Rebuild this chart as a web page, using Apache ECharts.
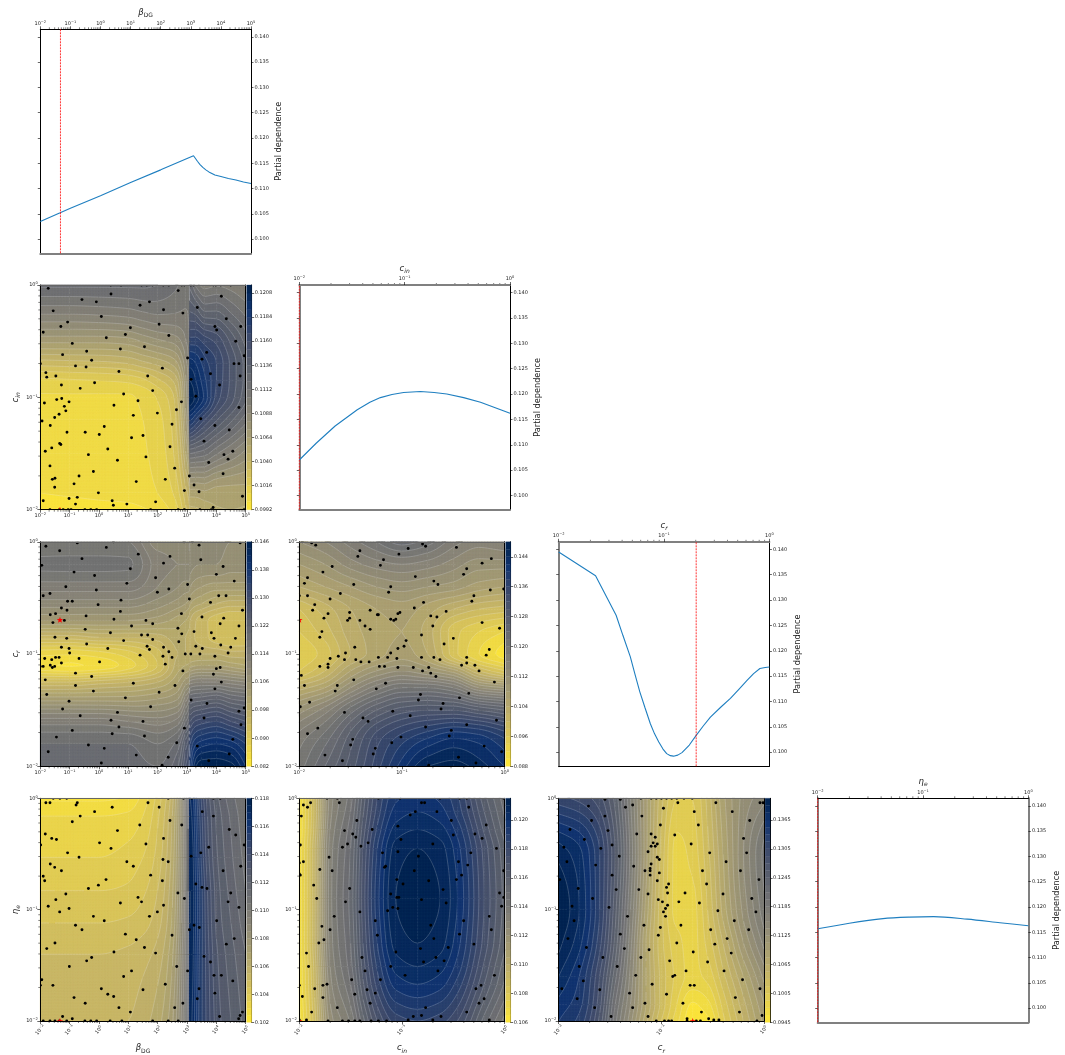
<!DOCTYPE html>
<html><head><meta charset="utf-8">
<style>html,body{margin:0;padding:0;background:#fff}#c{width:1065px;height:1055px}</style>
<script src="https://cdn.jsdelivr.net/npm/echarts@6/dist/echarts.min.js"></script>
</head><body><div id="c"></div>
<script>
// ---------- values (log10 of the parameter where marked) ----------
const lineBetaX=[-2,-1.34,-1,0,1,2,3.09,3.15,3.22,3.3,3.4,3.5,3.6,3.7,3.8,4,4.25,4.5,4.75,5];
const lineBetaY=[.1035,.1052,.1061,.1086,.1112,.1137,.1165,.1160,.1154,.1148,.1142,.1137,.1133,.1130,.1127,.1124,.1120,.1117,.1113,.1110];
const lineCinX=[-2,-1.84,-1.66,-1.45,-1.33,-1.23,-1.12,-1.01,-.93,-.85,-.72,-.6,-.44,-.28,-.14,0];
const lineCinY=[.107,.1103,.1137,.1169,.1184,.1193,.1199,.1203,.1204,.1205,.1203,.12,.1193,.1184,.1173,.1162];
const lineCrX=[-2,-1.65,-1.455,-1.39,-1.32,-1.275,-1.23,-1.18,-1.13,-1.09,-1.05,-1.01,-.975,-.94,-.91,-.87,-.83,-.76,-.695,-.63,-.56,-.46,-.37,-.29,-.21,-.15,-.09,-.04,0];
const lineCrY=[.1395,.1348,.127,.123,.1188,.1153,.1119,.1087,.1056,.1036,.102,.1006,.0997,.0993,.0992,.0994,.0999,.1014,.1033,.1051,.1069,.1089,.1106,.1124,.1142,.1155,.1165,.1167,.1168];
const lineEtaX=[-2,-1.7,-1.38,-1.13,-.9,-.58,-.27,0];
const lineEtaY=[.1157,.1168,.1177,.118,.1181,.1176,.1169,.1163];
const bestBeta=-1.33, bestCin=-2, bestCr=-.695, bestEta=-2;

const betaTicks=[-2,-1,0,1,2,3,4,5], unitTicks=[-2,-1,0];
const pdTicks=[.100,.105,.110,.115,.120,.125,.130,.135,.140];

// contour fields: node positions (log10) and values
const xA=[-2,-1,0,1,1.5,2,2.6,2.95,3.08,3.11,3.3,3.6,4,4.5,5];
const yA=[-2,-1.85,-1.5,-1.2,-1,-.85,-.7,-.5,-.25,0];
const zA=[
[.0993,.0994,.0996,.0997,.0999,.1003,.1012,.1030,.1038,.1045,.1046,.1050,.1055,.1056,.1055],
[.1000,.1001,.1002,.1003,.1005,.1008,.1018,.1037,.1045,.1060,.1060,.1062,.1060,.1060,.1060],
[.1003,.1004,.1004,.1005,.1007,.1011,.1026,.1055,.1075,.1120,.1118,.1115,.1105,.1095,.1085],
[.1004,.1004,.1005,.1006,.1008,.1013,.1030,.1068,.1095,.1185,.1175,.1160,.1145,.1130,.1115],
[.1007,.1007,.1007,.1007,.1010,.1017,.1034,.1075,.1100,.1214,.1205,.1190,.1165,.1148,.1130],
[.1014,.1015,.1016,.1018,.1022,.1030,.1043,.1078,.1100,.1208,.1200,.1186,.1168,.1150,.1133],
[.1035,.1036,.1037,.1040,.1045,.1050,.1060,.1085,.1100,.1197,.1192,.1180,.1168,.1150,.1133],
[.1066,.1066,.1066,.1068,.1073,.1078,.1083,.1095,.1105,.1172,.1172,.1165,.1158,.1142,.1125],
[.1097,.1097,.1098,.1100,.1103,.1105,.1104,.1103,.1106,.1145,.1142,.1130,.1130,.1120,.1110],
[.1122,.1122,.1122,.1122,.1122,.1120,.1114,.1108,.1112,.1125,.1110,.1100,.1103,.1100,.1095]];

const xB=[-2,-1,0,1,2,2.7,2.95,3.08,3.11,3.5,4,4.5,5];
const yB=[-2,-1.8,-1.6,-1.4,-1.25,-1.1,-1,-.85,-.7,-.55,-.4,-.2,0];
const zBcols=[
[.119,.118,.113,.103,.094,.0845,.0865,.095,.104,.109,.113,.1165,.114],
[.119,.118,.113,.103,.094,.0838,.0862,.095,.104,.109,.113,.1166,.114],
[.119,.118,.113,.103,.095,.0845,.087,.096,.104,.109,.113,.1166,.114],
[.119,.118,.112,.103,.096,.087,.089,.096,.104,.109,.113,.1164,.114],
[.118,.116,.111,.104,.098,.092,.093,.097,.103,.107,.110,.111,.109],
[.122,.119,.113,.106,.102,.099,.098,.099,.101,.105,.108,.110,.109],
[.128,.125,.118,.111,.105,.100,.098,.098,.100,.104,.107,.110,.109],
[.131,.128,.121,.114,.106,.1005,.098,.0975,.099,.103,.107,.110,.110],
[.137,.134,.128,.120,.111,.101,.098,.097,.098,.102,.106,.109,.110],
[.146,.139,.131,.121,.112,.102,.098,.095,.095,.100,.104,.108,.110],
[.146,.140,.132,.122,.112,.102,.098,.093,.093,.098,.103,.108,.109],
[.145,.139,.130,.120,.111,.101,.097,.092,.092,.097,.103,.107,.108],
[.140,.136,.128,.119,.110,.100,.097,.092,.092,.097,.103,.107,.108]];

const xC=[-2,-1.75,-1.5,-1.25,-1,-.75,-.5,-.25,0];
const yC=[-2,-1.75,-1.5,-1.3,-1.15,-1,-.8,-.6,-.4,-.2,0];
const zC=[
[.119,.124,.129,.135,.141,.146,.147,.145,.142],
[.117,.121,.127,.133,.137,.140,.142,.141,.138],
[.111,.115,.121,.126,.129,.130,.130,.128,.126],
[.103,.106,.112,.117,.120,.120,.118,.112,.110],
[.096,.100,.106,.110,.112,.110,.107,.100,.096],
[.094,.097,.102,.105,.107,.104,.097,.092,.089],
[.096,.099,.103,.105,.106,.103,.097,.094,.092],
[.098,.101,.104,.106,.107,.105,.102,.100,.099],
[.104,.106,.108,.110,.111,.110,.109,.107,.106],
[.108,.110,.113,.115,.116,.115,.113,.111,.111],
[.112,.114,.117,.120,.123,.121,.117,.115,.116]];

const xD=[-2,0,1,1.5,2,2.5,2.8,3,3.09,3.11,3.4,3.7,4,4.5,5];
const yD=[-2,-1.4,-1.12,-.83,-.53,-.16,0];
const zD=[
[.1053,.1054,.1055,.1058,.1063,.1074,.1090,.1108,.1122,.1172,.1155,.1143,.1133,.1125,.1118],
[.1050,.1050,.1051,.1053,.1057,.1069,.1087,.1106,.1122,.1174,.1156,.1142,.1131,.1122,.1115],
[.1045,.1045,.1046,.1048,.1053,.1066,.1085,.1105,.1122,.1175,.1157,.1141,.1129,.1120,.1112],
[.1040,.1040,.1041,.1044,.1050,.1064,.1084,.1105,.1122,.1175,.1157,.1140,.1128,.1118,.1110],
[.1035,.1035,.1037,.1040,.1047,.1062,.1083,.1104,.1122,.1174,.1155,.1137,.1126,.1116,.1108],
[.1030,.1030,.1031,.1035,.1044,.1060,.1082,.1106,.1122,.1172,.1152,.1135,.1124,.1114,.1106],
[.1024,.1024,.1026,.1032,.1042,.1058,.1082,.1108,.1122,.1170,.1150,.1133,.1122,.1112,.1105]];

const xE=[-2,-1.85,-1.7,-1.5,-1.38,-1.24,-1.06,-.85,-.63,-.46,-.2,0];
const yE=[-2,-1.67,-1.51,-1.3,-.9,-.45,-.28,-.12,0];
const zE=[
[.1063,.1088,.1122,.1136,.1153,.1170,.1182,.1185,.1182,.1175,.1153,.1138],
[.1065,.1091,.1128,.1145,.1164,.1182,.1197,.1200,.1197,.1188,.1165,.1149],
[.1065,.1092,.1130,.1148,.1167,.1186,.1202,.1205,.1202,.1193,.1169,.1152],
[.1066,.1094,.1132,.1150,.1170,.1190,.1207,.1210,.1207,.1197,.1173,.1156],
[.1066,.1094,.1133,.1152,.1172,.1193,.1210,.1213,.1210,.1200,.1175,.1158],
[.1066,.1094,.1132,.1150,.1170,.1190,.1207,.1210,.1207,.1197,.1173,.1156],
[.1065,.1092,.1130,.1148,.1167,.1186,.1202,.1205,.1202,.1193,.1169,.1152],
[.1065,.1091,.1128,.1145,.1164,.1182,.1197,.1200,.1197,.1188,.1165,.1149],
[.1064,.1091,.1127,.1143,.1162,.1180,.1194,.1197,.1194,.1186,.1162,.1147]];

const xF=[-2,-1.8,-1.6,-1.45,-1.3,-1.15,-1,-.85,-.7,-.55,-.4,-.2,0];
const yF=[-2,-1.85,-1.6,-1.3,-1,-.5,0];
const zF=[
[.135,.133,.127,.119,.113,.107,.102,.098,.0948,.0955,.100,.105,.110],
[.136,.134,.128,.120,.114,.108,.103,.099,.0958,.097,.101,.106,.111],
[.138,.135,.129,.122,.115,.108,.103,.100,.0985,.0995,.103,.108,.113],
[.140,.137,.131,.124,.116,.108,.1025,.0995,.0985,.101,.105,.111,.116],
[.141,.138,.132,.125,.117,.109,.1025,.0985,.0985,.102,.107,.113,.118],
[.139,.137,.132,.126,.118,.110,.103,.0985,.0995,.103,.108,.114,.119],
[.131,.130,.128,.124,.117,.110,.104,.1005,.1005,.104,.109,.113,.115]];

// sample points, flat x,y pairs of log10 values
const ptsA=[-1.73,-.03,.41,-.08,2.7,-.05,4.17,-.1,-.58,-.13,-.09,-.15,1.72,-.15,1.4,-.18,3.35,-.2,2.2,-.22,-1.56,-.23,2.86,-.25,.08,-.28,4.34,-.3,-1.07,-.33,2.05,-.35,-1.3,-.37,1.07,-.38,3.95,-.37,4.01,-.4,4.83,-.37,-1.9,-.42,.9,-.44,2.38,-.45,.25,-.47,4.66,-.5,-.91,-.52,1.55,-.55,.73,-.57,-.42,-.59,3.67,-.6,-1.24,-.62,3.02,-.65,3.51,-.66,-.25,-.67,4.6,-.7,4.77,-.7,4.95,-.63,-.8,-.72,-.44,-.73,-2,-.7,2.16,-.74,.68,-.77,-1.81,-.78,3.8,-.79,4.81,-.81,1.66,-.81,-1.47,-.81,-1.78,-.82,3.14,-.84,-.15,-.87,-1.28,-.89,4.11,-.89,-.64,-.92,1.83,-.94,.84,-.97,3.3,-.99,-1.44,-1.02,-1.27,-1.01,1.33,-1.03,-1.86,-1.05,-1.02,-1.04,2.81,-1.04,.51,-1.07,-1.18,-1.08,4.77,-1.09,2.64,-1.11,-1.13,-1.12,-1.36,-1.15,1.99,-1.14,1.17,-1.16,-1.51,-1.18,3.47,-1.19,-1.94,-1.21,2.49,-1.24,-1.66,-1.25,3.95,-1.25,.18,-1.26,4.44,-1.29,-1.09,-1.31,-.47,-1.31,.01,-1.33,1.5,-1.34,1.11,-1.36,3.58,-1.39,-1.34,-1.41,-1.3,-1.42,2.42,-1.44,.3,-1.46,-1.61,-1.45,-1.83,-1.48,4.56,-1.48,-.36,-1.51,4.26,-1.51,1.6,-1.53,4.4,-1.55,.63,-1.56,3.74,-1.58,-1.67,-1.61,2.58,-1.63,-.19,-1.66,4.23,-1.68,3.08,-1.7,-.68,-1.7,-1.5,-1.72,-1.59,-1.73,2.26,-1.73,1.27,-1.75,-.85,-1.77,3.24,-1.78,-1.51,-1.8,2.91,-1.83,3.41,-1.84,-.02,-1.85,-.74,-1.89,-1.02,-1.9,.45,-1.92,4.89,-1.88,-1.9,-1.92,1.93,-1.93,-.8,-1.95,.95,-1.95,.49,-1.96,3.89,-1.98];
const ptsAtop=[.4,.75,1.45,1.63,1.83,2.19,2.38,2.82,2.91,3.13,3.22,3.9,3.98,4.15,4.49];
const ptsAbottom=[-1.67,-1.35,-1.22,-1.05,-.95,-.48,-.28,-.08,1.76,2.7,2.91,3.44,3.83,4.95];

const ptsB=[-1.81,-.04,-1.34,-.08,-.74,-.01,.49,0,.25,-.05,2.9,0,3.18,0,3.41,-.03,4.81,-.01,1.34,-.11,2.42,-.13,-.58,-.15,3.47,-.16,-1.95,-.21,2.2,-.19,4.23,-.22,1.07,-.24,-.85,-.27,4,-.29,-.15,-.3,1.93,-.32,4.61,-.35,.95,-.37,3.02,-.38,-1.13,-.4,-.09,-.43,1.99,-.45,2.38,-.42,-1.67,-.46,-1.9,-.48,4.08,-.48,4.33,-.48,3.08,-.51,-1.07,-.53,-.91,-.53,.75,-.52,3.8,-.54,-.03,-.56,-1.28,-.59,-1.09,-.61,.73,-.62,4.89,-.61,-1.66,-.65,-1.48,-.64,-.44,-.66,2.81,-.64,3.51,-.67,.51,-.69,-1.18,-.7,-1.57,-.72,1.6,-.7,1.83,-.73,1.11,-.75,4.25,-.68,4.13,-.73,4.77,-.75,2.69,-.77,-.47,-.78,3.24,-.8,.39,-.81,3.83,-.81,2.82,-.82,1.45,-.83,1.66,-.83,-1.5,-.85,-1.1,-.86,3.92,-.86,4.65,-.86,1.83,-.87,.84,-.88,2.72,-.89,-.42,-.91,4.15,-.92,3.3,-.93,1.64,-.93,1.72,-.96,2.2,-.94,-1.28,-.94,-1.02,-.95,.3,-.95,3.52,-.95,4.49,-.94,2.38,-.98,-1,-.99,2.94,-1,3.13,-1,3.44,-1,4.4,-.99,1.4,-1.01,2.18,-1.02,2.49,-1.03,-1.85,-1.04,3.95,-1.02,-1.48,-1.03,-1.36,-1.03,-1.61,-1.05,-.68,-1.04,-1.28,-1.08,.02,-1.07,2.26,-1.09,-1.66,-1.1,-1.51,-1.11,-1.59,-1.12,-1.9,-1.11,-2,-1.11,4,-1.13,4.13,-1.12,2.86,-1.15,-.8,-1.17,3.9,-1.18,-.25,-1.2,-1.83,-1.23,4.17,-1.25,1.17,-1.26,-.8,-1.28,2.59,-1.28,3.95,-1.31,-.19,-1.33,2.05,-1.34,-1.78,-1.36,.9,-1.39,3.14,-1.41,-1.02,-1.42,3.68,-1.44,1.76,-1.47,-1.24,-1.49,4.77,-1.51,.63,-1.52,4.95,-1.48,-.64,-1.55,3.58,-1.57,.41,-1.59,1.5,-1.6,.68,-1.65,2.91,-1.66,4.84,-1.63,-.91,-1.68,.45,-1.71,1.55,-1.73,-1.45,-1.74,4.56,-1.76,2.65,-1.79,-.36,-1.81,3.35,-1.82,.18,-1.84,-1.73,-1.87,4.44,-1.89,1.27,-1.9,2.36,-1.92,3.74,-1.95,.08,-1.97,2.15,-1.99];

const ptsC=[-1.97,0,-1.88,-.01,-1.84,-.03,-1.41,-.08,-1.43,-.13,-1.18,-.16,-1.21,-.21,-1.03,-.11,-.94,-.06,-.8,-.02,-.77,-.04,-.47,-.05,-.13,-.15,-.22,-.19,-1.68,-.22,-1.77,-.27,-.4,-.29,-.37,-.24,-1.92,-.32,-.87,-.31,-1.95,-.37,-1.47,-.38,-.69,-.35,-.65,-.38,-1.11,-.4,-1.13,-.45,-1.6,-.46,-.14,-.43,-.01,-.42,-1.92,-.48,-.3,-.48,-1.7,-.51,-.32,-.53,-2,-.48,-1.85,-.56,-.79,-.54,-1.87,-.61,-.88,-.59,-1.31,-.61,-1.51,-.63,-1.02,-.63,-1.04,-.64,-1.24,-.65,-1.23,-.65,-.57,-.62,-1.72,-.64,-.72,-.66,-1.76,-.68,-.66,-.67,-1.51,-.68,-1.53,-.7,-1.41,-.7,-1.11,-.69,-1.08,-.7,-1.06,-.69,-.22,-.72,-1.36,-.75,-.7,-.75,-.05,-.77,-1.78,-.8,-1.31,-.78,-1.8,-.85,-.81,-.83,-.5,-.86,-.96,-.88,-.59,-.91,-1.46,-.94,-.98,-.93,-1.04,-.95,-.15,-.96,-1.11,-.99,-1.55,-.99,-.18,-1.01,-1.62,-1.02,-1.23,-1.03,-1.14,-1.03,-1.05,-1.04,-.81,-1.03,-.69,-1.03,-.63,-1.05,-.37,-1.03,-1.56,-1.05,-1.7,-1.04,-1.45,-1.05,-1.4,-1.07,-1.32,-1.07,-.37,-1.08,-.29,-1.1,-.42,-1.1,-1.8,-1.11,-1.72,-1.09,-1.72,-1.12,-1.22,-1.11,-1.17,-1.11,-1.04,-1.12,-.89,-1.12,-.74,-1.12,-.25,-1.15,-.8,-1.15,-.72,-1.17,-.67,-1.2,-1.98,-1.19,-1.47,-1.23,-.1,-1.25,-1.16,-1.26,-1.95,-1.28,-1.63,-1.28,-1.65,-1.33,-1.25,-1.31,-.35,-1.35,-.82,-1.36,-.84,-1.41,-.44,-1.39,-1.9,-1.43,-.6,-1.44,-1.99,-1.47,-.62,-1.49,-1.09,-1.51,-1.56,-1.52,-.92,-1.55,-1.38,-1.57,-1.33,-1.6,-.08,-1.59,-.37,-1.63,-.77,-1.65,-1.82,-1.66,-1.92,-1.71,-.52,-1.68,-.54,-1.73,-1.48,-1.76,-1.5,-1.81,-1.01,-1.74,-1.1,-1.79,-1.26,-1.84,-.2,-1.82,-1.28,-1.89,-.03,-1.87,-1.75,-1.9,-.45,-1.92,-1.58,-1.95,-.28,-1.97,-.74,-1.99];

const ptsD=[-1.81,-.04,-1.67,-.04,-.78,-.06,-.74,-.04,.45,-.08,-.15,-.12,-.64,-.16,1.67,-.04,2.05,-.08,3.9,-.16,3.52,-.12,-.91,-.21,2.42,-.2,1.39,-.24,2.82,-.24,.63,-.29,4.44,-.28,-1.83,-.32,4.66,-.33,-1.61,-.36,-1.45,-.37,2.2,-.36,.02,-.4,1.6,-.41,4.95,-.42,-1.99,-.42,.41,-.45,3.74,-.44,-1.07,-.49,3.47,-.49,-.68,-.53,3.14,-.52,2.18,-.55,2.36,-.57,.95,-.57,1.17,-.61,-1.66,-.59,-1.51,-.62,4.83,-.61,-1.28,-.65,4.23,-.65,-1.9,-.7,1.76,-.69,-1.85,-.74,.24,-.73,-.02,-.78,2.16,-.74,3.3,-.77,3.51,-.8,3.68,-.81,-.36,-.81,4.49,-.85,2.69,-.85,-1.13,-.86,1.33,-.89,2.91,-.9,-1.47,-.91,1.45,-.93,.73,-.94,4.4,-.93,2.2,-.96,-1.73,-.97,4.77,-.98,-1.02,-.99,-1.34,-1.02,1.99,-1.02,-.19,-1.06,1.72,-1.06,4.01,-1.1,.18,-1.1,-.8,-1.14,-.58,-1.18,3.08,-1.18,3.24,-1.14,3.42,-1.16,.9,-1.22,2.49,-1.23,1.27,-1.27,4.61,-1.26,-1.5,-1.3,4.34,-1.31,-1.78,-1.35,1.55,-1.34,.51,-1.38,1.93,-1.39,-.25,-1.43,3.58,-1.42,-.42,-1.46,3.8,-1.47,-1.01,-1.51,2.65,-1.51,1.11,-1.55,3.02,-1.55,.84,-1.6,-1.95,-1.63,4.56,-1.64,3.92,-1.59,4.17,-1.59,-1.57,-1.68,2.26,-1.67,-2,-1.68,3.41,-1.71,.08,-1.71,1.5,-1.72,.3,-1.76,3.95,-1.75,.5,-1.78,-.85,-1.79,3.35,-1.8,-.47,-1.84,2.86,-1.84,.68,-1.88,2.58,-1.88,4.11,-1.96,-1.24,-1.96,1.07,-1.92,4.89,-1.92,4.81,-1.95,-.91,-1.98,4.76,-1.98];
const ptsDtop=[-1.56,-1.33,-1.1,2.36,2.88,3.16,3.9,4.13];
const ptsDbottom=[-1.9,-1.67,-1.5,-1.35,-1.1,-.48,-.28,-.08,.38,.78,1.83,2.36,2.7];

const ptsE=[-1.96,-.06,-1.92,-.08,-1.89,-.04,-1.98,-.16,-1.61,-.04,-1.44,-.2,-1.29,-.28,-1.56,-.29,-1.48,-.32,-1.45,-.35,-1.53,-.41,-1.58,-.44,-1.4,-.43,-1.33,-.4,-2,-.42,-1.99,-.42,-1.71,-.53,-1.96,-.57,-2,-.58,-1.8,-.64,-1.68,-.65,-2,-.68,-1.99,-.69,-1.86,-.78,-1.51,-.81,-1.83,-.9,-1.55,-.93,-1.41,-1.02,-1.66,-1.06,-1.78,-1.15,-1.7,-1.18,-1.76,-1.27,-1.81,-1.3,-1.93,-1.39,-1.91,-1.51,-2,-1.68,-1.97,-1.78,-1.88,-1.92,-1.93,-1.99,-2,-1.99,-1.85,-1.71,-1.77,-1.68,-1.73,-1.67,-1.77,-1.79,-1.63,-1.88,-1.49,-1.63,-1.46,-1.76,-1.36,-1.55,-1.39,-1.43,-1.34,-1.72,-1.26,-1.75,-1.21,-1.63,-1.31,-1.84,-1.11,-1.51,-1.06,-1.38,-.97,-1.59,-1.26,-1.1,-1.24,-1.23,-1.14,-1.01,-1.09,-.98,-1.04,-.99,-1.05,-.89,-1.03,-.89,-1.11,-.86,-.99,-.77,-1.05,-.73,-1.17,-.62,-1.16,-.61,-1.19,-.49,-1.04,-.48,-1.01,-.37,-1.04,-.25,-.92,-.15,-.87,-.12,-.81,-.04,-.78,-.04,-.66,-.12,-.52,-.2,-.5,-.33,-.7,-.41,-.84,-.52,-.88,-.65,-.74,-.74,-.45,-.57,-.42,-.69,-.47,-.73,-.35,-.08,-.18,-.24,-.29,-.32,-.22,-.36,-.33,-.49,-.08,-.45,-.36,-.6,-.01,-.65,-.05,-.85,-.6,-.82,-.57,-.94,-.81,-.91,-.03,-.97,-.15,-1.06,-.4,-1.1,-.13,-1.18,-.72,-1.14,-.69,-1.26,-.44,-1.22,-.3,-1.31,-.55,-1.34,-.82,-1.35,-.67,-1.43,-.59,-1.46,-.79,-1.47,-.65,-1.55,-.1,-1.59,-.23,-1.68,-.28,-1.71,-.2,-1.8,-.25,-1.84,-.77,-1.88,-.37,-1.92,-.62,-1.96,-.81,-1.95,-.89,-1.96,-.94,-1.99,-.7,-1.99,-.15,-1.99,-.01,-.89];
const ptsEtop=[-1.73,-1.63,-1.23,-1.02,-.63,-.44,-.37,-.01];
const ptsEbottom=[-1.72,-1.58,-1.52,-1.46,-1.41,-1.3,-1.23,-1.15];

const ptsF=[-1.71,-.07,-1.55,-.01,-1.4,-.01,-1.35,-.08,-1.28,-.06,-1.68,-.2,-1.55,-.16,-1.19,-.16,-.98,-.09,-.84,-.04,-.47,-.04,-.31,-.12,-.04,-.04,-.01,-.04,-.14,-.2,-.68,-.12,-.64,-.24,-1.01,-.24,-1.89,-.28,-1.52,-.29,-1.24,-.32,-1.1,-.32,-1.75,-.37,-.87,-.33,-.2,-.36,-1.06,-.35,-1.08,-.4,-1.04,-.41,-1.06,-.43,-1.1,-.43,-.71,-.41,-1.48,-.42,-1.95,-.44,-1.59,-.45,-1.13,-.48,-.53,-.49,-.17,-.49,-1.41,-.52,-1.04,-.53,-1.02,-.55,-1.92,-.57,-.37,-.57,-1.1,-.59,-1.64,-.6,-1.27,-.61,-1.11,-.63,-1.16,-.65,-1.11,-.65,-.6,-.65,-1.02,-.67,-.23,-.65,-1.48,-.69,-1.11,-.69,-1.04,-.74,-.05,-.73,-1.99,-.73,-.56,-.77,-.93,-.77,-.95,-.8,-1.81,-.81,-1.44,-.82,-1.22,-.82,-.94,-.85,-1.13,-.86,-.77,-.85,-.4,-.86,-1.67,-.9,-.12,-.9,-1.03,-.91,-.99,-.93,-.83,-.93,-.63,-.94,-1.87,-.97,-1.51,-.98,-.94,-.96,-.96,-.99,-.98,-1.02,-.45,-1.01,-.08,-1.02,-.96,-1.06,-1.33,-1.06,-1.85,-1.1,-.29,-1.1,-.81,-1.14,-1.01,-1.16,-1.17,-1.14,-.52,-1.18,-.15,-1.18,-1.4,-1.22,-1.03,-1.23,-1.91,-1.26,-.36,-1.26,-.85,-1.3,-.48,-1.31,-1.36,-1.35,-1.73,-1.34,-1.12,-1.36,-.32,-1.39,-.69,-1.38,-1.57,-1.43,-1.2,-1.43,-.92,-1.46,-.55,-1.47,-1.8,-1.51,-1.43,-1.51,-.39,-1.55,-.76,-1.55,-.87,-1.59,-.89,-1.6,-1.25,-1.59,-.21,-1.63,-1.76,-1.64,-1.09,-1.67,-.72,-1.68,-.68,-1.68,-.04,-1.71,-1.97,-1.71,-1.6,-1.72,-1.31,-1.75,-.95,-1.76,-1.82,-1.8,-.28,-1.79,-1.16,-1.84,-.79,-1.84,-1.65,-1.88,-1.28,-1.88,-.61,-1.92,-.24,-1.92,-1.49,-1.96,-1.13,-1.96,-.02,-1.95,-.75,-1.98,-.54,-1.98,-.49,-1.99,-.44,-1.99,-.07,-2];
const ptsFtop=[-1.2,-1.1,-1.05,-1,-.95,-.9,-.85,-.78,-.7];
const ptsFbottom=[-1.05,-.97,-.93,-.9,-.75,-.66,-.62];

const cividis=['#00224e','#123570','#3b496c','#575d6d','#707173','#8a8678','#a59c74','#c3b369','#e1cc55','#fee838'];

// ---------- helpers ----------
const FONT='DejaVu Sans';
const STAR='M50 0L62 35L100 38L70 60L81 95L50 74L19 95L30 60L0 38L38 35Z';
const P10=e=>Math.pow(10,e);
const pairs=a=>{const r=[];for(let i=0;i<a.length;i+=2)r.push([a[i],a[i+1]]);return r;};
const transpose=m=>m[0].map((_,i)=>m.map(r=>r[i]));
function hex(c){return [1,3,5].map(i=>parseInt(c.substr(i,2),16));}
function cmapR(t){const s=(1-Math.min(1,Math.max(0,t)))*(cividis.length-1),i=Math.min(cividis.length-2,Math.floor(s)),f=s-i,a=hex(cividis[i]),b=hex(cividis[i+1]);
  return 'rgb('+a.map((v,k)=>Math.round(v+(b[k]-v)*f)).join(',')+')';}
function pchip(xs,ys,q){const n=xs.length,h=[],d=[],m=new Array(n);
  for(let i=0;i<n-1;i++){h[i]=xs[i+1]-xs[i];d[i]=(ys[i+1]-ys[i])/h[i];}
  m[0]=d[0];m[n-1]=d[n-2];
  for(let i=1;i<n-1;i++){if(d[i-1]*d[i]<=0)m[i]=0;else{const w1=2*h[i]+h[i-1],w2=h[i]+2*h[i-1];m[i]=(w1+w2)/(w1/d[i-1]+w2/d[i]);}}
  return q.map(x=>{let i=0;while(i<n-2&&x>xs[i+1])i++;const t=(x-xs[i])/h[i],t2=t*t,t3=t2*t;
    return (2*t3-3*t2+1)*ys[i]+(t3-2*t2+t)*h[i]*m[i]+(-2*t3+3*t2)*ys[i+1]+(t3-t2)*h[i]*m[i+1];});}
function subdivide(ns,k){const out=[],idx=[];const span=ns[ns.length-1]-ns[0];
  for(let i=0;i<ns.length-1;i++){idx.push(out.length);const m=Math.max(1,Math.ceil((ns[i+1]-ns[i])/span*k));
    for(let j=0;j<m;j++)out.push(ns[i]+(ns[i+1]-ns[i])*j/m);}
  idx.push(out.length);out.push(ns[ns.length-1]);return {v:out,idx};}
function clipAbove(poly,L){const r=[];for(let i=0;i<poly.length;i++){const a=poly[i],b=poly[(i+1)%poly.length];
    if(a[2]>=L)r.push(a);
    if((a[2]>=L)!==(b[2]>=L)){const f=(L-a[2])/(b[2]-a[2]);r.push([a[0]+(b[0]-a[0])*f,a[1]+(b[1]-a[1])*f,L]);}}
  return r;}
const pathOf=p=>'M'+p.map(q=>q[0].toFixed(2)+' '+q[1].toFixed(2)).join('L')+'Z';

function tickLabel(v){const e=Math.round(Math.log10(v));return '{a|10}{b|'+(e<0?'\u2212'+(-e):e)+'}';}
const tickRich={a:{fontFamily:FONT,fontSize:5,lineHeight:7,color:'#222'},b:{fontFamily:FONT,fontSize:3.6,lineHeight:7,verticalAlign:'top',color:'#222'}};
const BLACK={color:'#000',width:1},GRAY={color:'#808080',width:2};
const tickStyle={color:'#000',width:.6};

const option={animation:false,backgroundColor:'#fff',grid:[],xAxis:[],yAxis:[],series:[]};
function addGrid(left,top,right,bottom){option.grid.push({left,top,width:right-left,height:bottom-top,containLabel:false});return option.grid.length-1;}
function addX(a){option.xAxis.push(a);return option.xAxis.length-1;}
function addY(a){option.yAxis.push(a);return option.yAxis.length-1;}
const nameRich={i:{fontFamily:FONT,fontStyle:'italic',fontSize:8.5,color:'#222',lineHeight:12},
  si:{fontFamily:FONT,fontStyle:'italic',fontSize:6,color:'#222',lineHeight:12,verticalAlign:'bottom'},
  s:{fontFamily:FONT,fontSize:6,color:'#222',lineHeight:12,verticalAlign:'bottom'}};
const NAMES={beta:'{i|\u03b2}{s|DG}',cin:'{i|c}{si|in}',cr:'{i|c}{si|r}',eta:'{i|\u03b7}{si|e}'};

function logAxis(g,pos,ex,ticks,opts){opts=opts||{};
  const vals=ticks?ticks.map(P10):[];
  const a={type:'log',logBase:10,gridIndex:g,position:pos,min:P10(ex[0]),max:P10(ex[1]),z:8,
    axisLine:{show:true,onZero:false,lineStyle:opts.spine||BLACK},
    axisTick:{show:!!ticks,length:3,lineStyle:tickStyle,customValues:vals},
    axisLabel:{show:!!ticks,customValues:vals,formatter:tickLabel,rich:tickRich,margin:opts.margin||2.5,rotate:opts.rotate||0,hideOverlap:false,showMinLabel:true,showMaxLabel:true},
    splitLine:{show:false},minorTick:{show:false},minorSplitLine:{show:false}};
  if(opts.rotate){a.axisLabel.align='center';a.axisLabel.verticalAlign='middle';}
  if(opts.name){a.name=opts.name;a.nameLocation='middle';a.nameGap=opts.nameGap;a.nameRotate=opts.nameRotate||0;a.nameTextStyle={fontFamily:FONT,fontSize:8.5,color:'#222',rich:nameRich};}
  return a;}

function minorValues(ex){const r=[];for(let e=ex[0];e<ex[1];e++)for(let m=2;m<=9;m++)r.push(m*P10(e));return r;}
function minorSeries(xi,yi,dim,ex,anchor,dx,dy){
  option.series.push({type:'custom',xAxisIndex:xi,yAxisIndex:yi,coordinateSystem:'cartesian2d',silent:true,clip:false,z:6,
    data:minorValues(ex).map(v=>[v]),encode:dim==='x'?{x:0}:{y:0},
    renderItem:(p,api)=>{const v=api.value(0);const c=dim==='x'?api.coord([v,anchor]):api.coord([anchor,v]);
      return {type:'line',shape:{x1:c[0],y1:c[1],x2:c[0]+dx,y2:c[1]+dy},style:{stroke:'#000',lineWidth:.5},silent:true};}});
}

function contourPanel(xi,yi,P){
  const fx=subdivide(P.xs,70),fy=subdivide(P.ys,70);
  const rows=P.z.map(r=>pchip(P.xs,r,fx.v));
  const cols=fx.v.map((_,c)=>pchip(P.ys,rows.map(r=>r[c]),fy.v));
  const nL=Math.round((P.max-P.min)/P.step);
  const level=i=>P.min+i*P.step;
  const band=v=>Math.max(0,Math.min(nL-1,Math.floor((v-P.min)/P.step+1e-9)));
  const color=b=>cmapR((b+.5)/nL);
  const nx=P.xs.length,data=[];
  P.ys.forEach((y,j)=>P.xs.forEach((x,i)=>data.push([P10(x),P10(y),P.z[j][i]])));
  let px=null,py=null;
  option.series.push({type:'custom',xAxisIndex:xi,yAxisIndex:yi,coordinateSystem:'cartesian2d',silent:true,z:1,progressive:0,
    data,encode:{x:0,y:1},
    renderItem:(params,api)=>{
      const i=params.dataIndex%nx,j=Math.floor(params.dataIndex/nx);
      if(i===nx-1||j===P.ys.length-1)return null;
      if(!px){px=fx.v.map(u=>api.coord([P10(u),P10(P.ys[0])])[0]);py=fy.v.map(v=>api.coord([P10(P.xs[0]),P10(v)])[1]);}
      const fills={},lines=[];
      for(let a=fx.idx[i];a<fx.idx[i+1];a++)for(let b=fy.idx[j];b<fy.idx[j+1];b++){
        const poly=[[px[a],py[b],cols[a][b]],[px[a+1],py[b],cols[a+1][b]],[px[a+1],py[b+1],cols[a+1][b+1]],[px[a],py[b+1],cols[a][b+1]]];
        const vs=poly.map(q=>q[2]),lo=Math.min.apply(null,vs),hi=Math.max.apply(null,vs),b0=band(lo),b1=band(hi);
        (fills[b0]=fills[b0]||[]).push(pathOf(poly));
        for(let k=b0+1;k<=b1;k++){const c=clipAbove(poly,level(k));if(c.length>2)(fills[k]=fills[k]||[]).push(pathOf(c));
          if(b1-b0>3)continue;
          const cross=[];for(let e=0;e<4;e++){const s=poly[e],t=poly[(e+1)%4];if((s[2]>=level(k))!==(t[2]>=level(k))){const f=(level(k)-s[2])/(t[2]-s[2]);cross.push([s[0]+(t[0]-s[0])*f,s[1]+(t[1]-s[1])*f]);}}
          for(let e=0;e+1<cross.length;e+=2)lines.push('M'+cross[e][0].toFixed(2)+' '+cross[e][1].toFixed(2)+'L'+cross[e+1][0].toFixed(2)+' '+cross[e+1][1].toFixed(2));
        }
      }
      const children=Object.keys(fills).map(Number).sort((m,n)=>m-n).map(k=>({type:'path',shape:{pathData:fills[k].join('')},style:{fill:color(k),stroke:color(k),lineWidth:.5},silent:true}));
      if(lines.length)children.push({type:'path',shape:{pathData:lines.join('')},style:{fill:null,stroke:'rgba(255,255,255,.36)',lineWidth:.55},silent:true});
      return {type:'group',children};
    }});
}

function colorbar(left,top,right,bottom,P){
  const g=addGrid(left,top,right,bottom);
  const xi=addX({type:'value',gridIndex:g,min:0,max:1,show:false});
  const yi=addY({type:'value',gridIndex:g,position:'right',min:P.min,max:P.max,
    axisLine:{show:true,onZero:false,lineStyle:BLACK},
    axisTick:{show:true,length:2.5,lineStyle:tickStyle,customValues:P.ticks},
    axisLabel:{show:true,customValues:P.ticks,margin:3,fontFamily:FONT,fontSize:5,color:'#222',formatter:v=>v.toFixed(P.digits),hideOverlap:false,showMinLabel:true,showMaxLabel:true},
    splitLine:{show:false}});
  const nL=Math.round((P.max-P.min)/P.step),levels=[];for(let i=0;i<nL;i++)levels.push([P.min+i*P.step]);
  option.series.push({type:'custom',xAxisIndex:xi,yAxisIndex:yi,coordinateSystem:'cartesian2d',silent:true,data:levels,encode:{y:0},z:2,
    renderItem:(p,api)=>{const v=api.value(0),a=api.coord([0,v]),b=api.coord([1,v+P.step]),c=cmapR((p.dataIndex+.5)/nL);
      return {type:'rect',shape:{x:a[0],y:b[1],width:b[0]-a[0],height:a[1]-b[1]},style:{fill:c,stroke:c,lineWidth:.3},silent:true};}});
}

function panelContour(col,row,P,xkey,ykey,bottomRow){
  const L=COLX[col],T=ROWY[row][0],B=ROWY[row][1],R=L+205.4;
  const g=addGrid(L,T,R,B);
  const xi=addX(logAxis(g,'bottom',P.xe,P.xt,bottomRow?{rotate:50,margin:9,name:NAMES[xkey],nameGap:21}:{}));
  addX(logAxis(g,'top',P.xe,null,{spine:{color:'#666',width:1}}));
  const yi=addY(logAxis(g,'left',[-2,0],unitTicks,col===0?{name:NAMES[ykey],nameGap:19,nameRotate:90}:{}));
  addY(logAxis(g,'right',[-2,0],null));
  contourPanel(xi,yi,P);
  const pts=pairs(P.pts).concat((P.top||[]).map(x=>[x,0]),(P.bottom||[]).map(x=>[x,-2])).map(q=>[P10(q[0]),P10(q[1])]);
  option.series.push({type:'custom',xAxisIndex:xi,yAxisIndex:yi,coordinateSystem:'cartesian2d',silent:true,z:4,data:pts,encode:{x:0,y:1},
    renderItem:(p,api)=>{const c=api.coord([api.value(0),api.value(1)]);
      return {type:'circle',shape:{cx:c[0],cy:c[1],r:1.45},style:{fill:'#000'},silent:true,clipPath:{type:'rect',shape:{x:p.coordSys.x,y:p.coordSys.y,width:p.coordSys.width,height:p.coordSys.height}}};}});
  option.series.push({type:'custom',xAxisIndex:xi,yAxisIndex:yi,coordinateSystem:'cartesian2d',silent:true,z:5,data:[[P10(P.best[0]),P10(P.best[1])]],encode:{x:0,y:1},
    renderItem:(p,api)=>{const c=api.coord([api.value(0),api.value(1)]);
      return {type:'path',shape:{pathData:STAR,x:c[0]-3.2,y:c[1]-3.2,width:6.4,height:6.4},style:{fill:'#f00'},silent:true,clipPath:{type:'rect',shape:{x:p.coordSys.x,y:p.coordSys.y,width:p.coordSys.width,height:p.coordSys.height}}};}});
  minorSeries(xi,yi,'x',P.xe,P10(-2),0,2);
  minorSeries(xi,yi,'y',[-2,0],P10(P.xe[0]),-2,0);
  colorbar(R+1,T,R+6,B,P);
}

function panelDiag(col,row,xs,ys,best,ex,ticks,key,spines,smooth){
  const L=COLX[col],R=L+210.7,T=ROWY[row][0],B=ROWY[row][1];
  const g=addGrid(L,T,R,B);
  const xi=addX(logAxis(g,'top',ex,ticks,{name:NAMES[key],nameGap:10,spine:spines.top}));
  addX(logAxis(g,'bottom',ex,null,{spine:spines.bottom}));
  const pdAxis=(pos,withLabel,sp)=>({type:'value',gridIndex:g,position:pos,min:.0972,max:.1415,
    axisLine:{show:true,onZero:false,lineStyle:sp},
    axisTick:{show:true,length:2.5,lineStyle:tickStyle,customValues:pdTicks},
    axisLabel:{show:withLabel,customValues:pdTicks,margin:3.5,fontFamily:FONT,fontSize:5,color:'#222',formatter:v=>v.toFixed(3),hideOverlap:false},
    splitLine:{show:false},
    name:withLabel?'Partial dependence':'',nameLocation:'middle',nameGap:24,nameRotate:90,nameTextStyle:{fontFamily:FONT,fontSize:8.2,color:'#222'}});
  const yi=addY(pdAxis('right',true,spines.right));
  addY(pdAxis('left',false,spines.left));
  option.series.push({type:'line',xAxisIndex:xi,yAxisIndex:yi,showSymbol:false,smooth:smooth||false,lineStyle:{color:'#1f7fc0',width:1.1},data:xs.map((x,i)=>[P10(x),ys[i]]),z:3,silent:true});
  option.series.push({type:'line',xAxisIndex:xi,yAxisIndex:yi,showSymbol:false,clip:false,lineStyle:{color:'#f00',width:.8,type:[2,1]},data:[[P10(best),.0972],[P10(best),.1415]],z:9,silent:true});
  minorSeries(xi,yi,'x',ex,.1415,0,-2);
}

// ---------- layout ----------
const COLX=[40.3,299.3,558.7,817.7];
const ROWY=[[29.3,253.3],[285,509.7],[541.8,766.3],[798.3,1022.3]];
const betaEx=[-2,5],unitEx=[-2,0];
const ticksOf=(a,s,n)=>{const r=[];for(let i=0;i<n;i++)r.push(+(a+i*s).toFixed(5));return r;};

panelDiag(0,0,lineBetaX,lineBetaY,bestBeta,betaEx,betaTicks,'beta',{top:BLACK,bottom:GRAY,left:BLACK,right:BLACK});
panelContour(0,1,{xs:xA,ys:yA,z:zA,xe:betaEx,xt:betaTicks,min:.0992,max:.1216,step:.0008,ticks:ticksOf(.0992,.0024,10),digits:4,pts:ptsA,top:ptsAtop,bottom:ptsAbottom,best:[bestBeta,-2]},'beta','cin');
panelDiag(1,1,lineCinX,lineCinY,bestCin,unitEx,unitTicks,'cin',{top:GRAY,bottom:GRAY,left:GRAY,right:BLACK});
panelContour(0,2,{xs:xB,ys:yB,z:transpose(zBcols),xe:betaEx,xt:betaTicks,min:.082,max:.146,step:.002,ticks:ticksOf(.082,.008,9),digits:3,pts:ptsB,best:[bestBeta,bestCr]},'beta','cr');
panelContour(1,2,{xs:xC,ys:yC,z:zC,xe:unitEx,xt:unitTicks,min:.088,max:.148,step:.002,ticks:ticksOf(.088,.008,8),digits:3,pts:ptsC,best:[bestCin,bestCr]},'cin','cr');
panelDiag(2,2,lineCrX,lineCrY,bestCr,unitEx,unitTicks,'cr',{top:GRAY,bottom:BLACK,left:GRAY,right:BLACK});
panelContour(0,3,{xs:xD,ys:yD,z:zD,xe:betaEx,xt:betaTicks,min:.102,max:.118,step:.0005,ticks:ticksOf(.102,.002,9),digits:3,pts:ptsD,top:ptsDtop,bottom:ptsDbottom,best:[bestBeta,-2]},'beta','eta',true);
panelContour(1,3,{xs:xE,ys:yE,z:zE,xe:unitEx,xt:unitTicks,min:.106,max:.1215,step:.0005,ticks:ticksOf(.106,.002,8),digits:3,pts:ptsE,top:ptsEtop,bottom:ptsEbottom,best:[bestCin,-2]},'cin','eta',true);
panelContour(2,3,{xs:xF,ys:yF,z:zF,xe:unitEx,xt:unitTicks,min:.0945,max:.141,step:.0015,ticks:ticksOf(.0945,.006,8),digits:4,pts:ptsF,top:ptsFtop,bottom:ptsFbottom,best:[bestCr,-2]},'cr','eta',true);
panelDiag(3,3,lineEtaX,lineEtaY,bestEta,unitEx,unitTicks,'eta',{top:BLACK,bottom:GRAY,left:GRAY,right:GRAY},.3);

const chart=echarts.init(document.getElementById('c'),null,{renderer:'canvas',width:1065,height:1055});
chart.setOption(option);
</script></body></html>
